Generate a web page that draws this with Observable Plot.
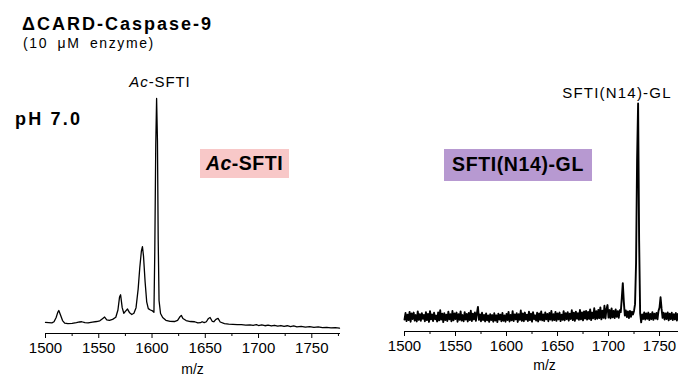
<!DOCTYPE html>
<html><head><meta charset="utf-8">
<script src="https://cdn.jsdelivr.net/npm/d3@7"></script>
<script src="https://cdn.jsdelivr.net/npm/@observablehq/plot@0.6"></script>
<style>
body{margin:0;background:#fff;}
#wrap{position:relative;width:678px;height:381px;overflow:hidden;font-family:"Liberation Sans",Arial,sans-serif;color:#000;background:#fff;}
#wrap svg{position:absolute;top:0;}
.t{position:absolute;white-space:nowrap;line-height:1;}
.box{position:absolute;display:flex;align-items:center;justify-content:center;font-weight:bold;white-space:nowrap;line-height:1;}
</style></head><body><div id="wrap"></div>
<script>
// ---- data ----
const majorTicks = [1500, 1550, 1600, 1650, 1700, 1750];
const minorTicks = [1525, 1575, 1625, 1675, 1725, 1775];

// Left spectrum: Ac-SFTI (relative intensity, %)
const leftMz = [1500,1503,1506,1508,1510,1511.5,1512.5,1514,1516,1518,1521,1525,1529,1532,1534,1537,1540,1544,1548,1551,1553.5,1555.5,1557.5,1560,1563,1566,1568,1569.5,1570.5,1572,1573.5,1575,1577,1579,1581,1583,1585,1587,1588.5,1590,1591,1592,1593.5,1595,1596.5,1598.5,1600.5,1601.8,1602.6,1603.5,1604.3,1605.1,1605.8,1606.6,1608,1610,1613,1617,1621,1624,1626,1627.5,1629,1632,1636,1640,1643,1645.5,1647,1649,1651,1653,1654.5,1656.5,1658,1660,1662,1664,1668,1672,1676,1680,1684,1688,1692,1695,1698,1700,1703,1706,1709,1712,1715,1718,1721,1724,1727,1730,1733,1736,1740,1744,1748,1752,1756,1760,1764,1768,1772,1776];
const leftInt = [4.7,4.6,4.5,5.0,6.8,9.0,9.8,8.0,5.5,4.4,4.2,4.3,4.6,4.9,5.0,4.6,4.5,4.8,5.1,5.4,6.3,7.0,5.8,5.6,6.0,6.9,10,15.5,16.5,11,8.6,9.4,10.4,8.8,8.1,8.6,11,19,28,35,37,33,22,13.5,10.6,10.0,9.6,9.0,35,80,100,82,40,14,8.5,6.8,5.6,5.2,5.1,5.6,7.0,7.7,6.4,5.5,5.1,5.0,4.5,4.6,5.0,4.6,5.0,6.4,6.8,5.2,5.0,6.0,6.4,4.9,4.2,4.0,3.9,3.8,3.8,3.6,3.7,3.5,3.8,3.4,3.7,3.3,3.6,3.2,3.5,3.1,3.4,3.0,3.3,2.9,3.2,2.8,3.0,2.7,2.9,2.6,2.8,2.5,2.6,2.4,2.5,2.3];

// Right spectrum: SFTI(N14)-GL, one reading per m/z unit from 1500 to 1768
const rightStartMz = 1500;
const rightInt = [
5.2,8.1,4.6,7.4,5.0,8.6,4.3,7.9,5.5,8.3,
4.8,7.2,4.4,8.8,5.1,7.6,4.7,8.0,5.6,7.3,
4.5,8.5,5.0,7.7,4.2,8.9,5.3,7.5,4.6,8.2,
5.4,7.0,4.4,8.4,4.9,9.3,5.2,7.8,4.1,8.0,
5.0,7.4,4.6,8.7,5.3,7.6,4.5,9.0,4.9,7.9,
5.5,8.3,4.3,7.6,5.1,8.8,4.8,7.2,4.5,8.5,
5.2,7.7,4.4,8.1,5.0,9.1,4.6,7.8,5.3,8.4,
4.7,8.0,10.8,5.1,7.5,4.5,8.2,5.0,7.3,4.4,
7.9,4.9,7.0,4.2,7.6,5.0,7.2,4.3,8.0,4.8,
7.1,4.1,7.8,5.2,7.4,4.5,8.1,4.7,7.0,4.3,
7.7,5.0,8.6,4.4,7.3,4.9,8.9,4.6,7.5,5.3,
8.0,4.2,7.6,5.1,9.2,4.7,7.9,4.5,8.3,5.2,
7.4,4.6,8.7,5.0,7.8,4.3,8.5,5.4,7.1,4.8,
8.2,4.4,7.9,5.1,8.8,4.9,7.5,4.6,8.4,5.3,
7.7,4.5,8.1,5.2,9.0,4.8,7.6,5.0,8.6,4.7,
7.9,5.3,8.3,4.6,7.4,5.1,8.9,4.9,8.0,5.4,
8.5,4.8,7.8,5.5,9.3,5.0,8.2,4.7,8.7,5.6,
8.0,5.1,9.4,5.3,8.4,4.9,8.8,5.7,9.0,5.2,
8.6,5.5,9.7,5.0,8.3,5.8,10.2,5.4,8.9,5.6,
9.5,5.9,10.6,5.3,9.1,6.0,11.3,5.7,9.8,11.6,
6.1,9.4,5.8,10.1,6.2,9.0,5.9,9.7,6.4,8.9,
6.0,9.3,8.5,14.5,21.2,13.0,7.0,9.2,6.3,8.8,
5.9,9.0,6.4,8.7,7.5,9.0,12.0,30,75,100,
40,8,4.0,7.5,5.5,8.4,5.2,7.9,5.6,8.3,
5.0,7.7,5.4,8.5,5.1,7.8,5.7,8.1,5.3,9.0,
10.5,15.0,10.0,6.0,8.2,5.2,7.9,5.5,8.4,4.9,
7.8,5.4,8.2,5.0,7.6,5.3,8.1,4.8,7.7];

const left = leftMz.map((mz, k) => ({mz, i: leftInt[k]}));
const right = rightInt.map((i, k) => ({mz: rightStartMz + k, i}));

const font = "'Liberation Sans', Arial, sans-serif";
const wrap = document.getElementById("wrap");

function panel({data, width, marginLeft, marginRight, marginTop, axisY, xMax, strokeWidth, labelDx, labelDy}) {
  return Plot.plot({
    width, height: 381,
    marginLeft, marginRight, marginTop, marginBottom: 381 - axisY,
    style: {fontFamily: font, fontSize: "15px", color: "black", background: "transparent"},
    x: {domain: [1500, xMax]},
    y: {domain: [0, 100], axis: null},
    marks: [
      Plot.frame({anchor: "bottom", stroke: "black"}),
      Plot.axisX({ticks: majorTicks, tickSize: 5, tickPadding: 4, label: null, tickFormat: d => String(d)}),
      Plot.axisX({ticks: minorTicks.filter(t => t <= xMax), tickSize: 3, label: null, tickFormat: () => ""}),
      Plot.line(data, {x: "mz", y: "i", stroke: "black", strokeWidth}),
      Plot.text(["m/z"], {text: d => d, frameAnchor: "bottom", dy: labelDy, dx: labelDx, fontSize: 14})
    ]
  });
}

const p1 = panel({data: left, width: 350, marginLeft: 45, marginRight: 11, marginTop: 98, axisY: 333, xMax: 1776, strokeWidth: 1.3, labelDx: 0, labelDy: 40});
p1.style.left = "0px";
wrap.appendChild(p1);

const p2 = panel({data: right, width: 328, marginLeft: 54, marginRight: 0, marginTop: 103, axisY: 331, xMax: 1768.6, strokeWidth: 1.9, labelDx: 3, labelDy: 38});
p2.style.left = "350px";
wrap.appendChild(p2);

function addText(html, css) {
  const d = document.createElement("div");
  d.className = "t";
  d.innerHTML = html;
  Object.assign(d.style, css);
  wrap.appendChild(d);
  return d;
}
addText("ΔCARD-Caspase-9", {left: "22px", top: "15px", fontSize: "18px", fontWeight: "bold", letterSpacing: "2px"});
addText("(10 μM enzyme)", {left: "23px", top: "36px", fontSize: "14px", letterSpacing: "1.6px", wordSpacing: "4px"});
addText("pH 7.0", {left: "15px", top: "110px", fontSize: "18px", fontWeight: "bold", letterSpacing: "2.2px"});
addText("<i>Ac</i>-SFTI", {left: "160px", top: "74px", fontSize: "15px", letterSpacing: "0.9px", transform: "translateX(-50%)"});
addText("SFTI(N14)-GL", {left: "617px", top: "85px", fontSize: "15px", letterSpacing: "1.2px", transform: "translateX(-50%)"});

function addBox(html, css) {
  const d = document.createElement("div");
  d.className = "box";
  d.innerHTML = html;
  Object.assign(d.style, css);
  wrap.appendChild(d);
}
addBox("<i>Ac</i>-SFTI", {left: "200px", top: "149px", width: "89px", height: "29px", background: "#f8c8c8", fontSize: "19.5px", letterSpacing: "0.5px"});
addBox("SFTI(N14)-GL", {left: "444px", top: "149px", width: "148px", height: "32px", background: "#b799d1", fontSize: "19.5px", letterSpacing: "0.6px"});
</script></body></html>
